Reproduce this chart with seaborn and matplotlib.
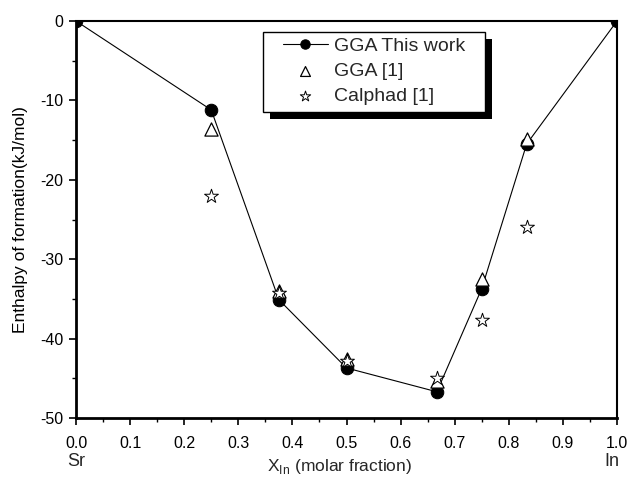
import matplotlib
matplotlib.use("Agg")
import matplotlib.pyplot as plt
import seaborn as sns
import pandas as pd
from matplotlib.patches import Rectangle
from matplotlib.ticker import MultipleLocator

x_this = [0.0, 0.25, 0.375, 0.5, 0.667, 0.75, 0.833, 1.0]
y_this = [0.0, -11.2, -35.1, -43.7, -46.7, -33.7, -15.5, 0.0]

x_lit = [0.25, 0.375, 0.5, 0.667, 0.75, 0.833]
y_gga1 = [-13.6, -34.0, -42.6, -45.3, -32.5, -14.9]
y_calphad = [-22.0, -34.2, -42.8, -45.0, -37.7, -26.0]

labels = ["GGA This work", "GGA [1]", "Calphad [1]"]

sns.set_theme(style="ticks")
plt.rcParams['font.family'] = ['Liberation Sans', 'DejaVu Sans']
plt.rcParams['mathtext.fontset'] = 'custom'
plt.rcParams['mathtext.rm'] = 'Liberation Sans'

fig = plt.figure(figsize=(6.28, 4.79), dpi=100)
ax = fig.add_axes([76/628, 1 - 418/479, (617-76)/628, (418-21)/479])

df_this = pd.DataFrame({"x": x_this, "y": y_this})
df_g = pd.DataFrame({"x": x_lit, "y": y_gga1})
df_c = pd.DataFrame({"x": x_lit, "y": y_calphad})

sns.lineplot(data=df_this, x="x", y="y", ax=ax, color="black", lw=0.8,
             marker="o", markersize=9, markeredgecolor="black",
             markerfacecolor="black", label=labels[0], zorder=3)
sns.scatterplot(data=df_g, x="x", y="y", ax=ax, marker="^", s=90,
                facecolor="white", edgecolor="black", linewidth=0.9,
                label=labels[1], zorder=4, clip_on=False)
sns.scatterplot(data=df_c, x="x", y="y", ax=ax, marker="*", s=110,
                facecolor="white", edgecolor="black", linewidth=0.7,
                label=labels[2], zorder=5, clip_on=False)

ax.set_xlim(0, 1.0)
ax.set_ylim(-50, 0)
ax.xaxis.set_major_locator(MultipleLocator(0.1))
ax.xaxis.set_minor_locator(MultipleLocator(0.05))
ax.yaxis.set_major_locator(MultipleLocator(10))
ax.yaxis.set_minor_locator(MultipleLocator(5))
ax.tick_params(which="major", direction="out", length=5, width=1.2,
               labelsize=11.5, color="black", labelcolor="black", pad=4)
ax.tick_params(axis="x", which="major", pad=8)
ax.tick_params(which="minor", direction="out", length=3, width=1.0, color="black")
ax.set_xticklabels([f"{v:.1f}" for v in ax.get_xticks()])
ax.set_yticklabels([f"{int(v)}" for v in ax.get_yticks()])
for s in ax.spines.values():
    s.set_color("black")
    s.set_linewidth(1.5)
ax.spines["left"].set_linewidth(2)
ax.spines["bottom"].set_linewidth(2)

ax.set_xlabel("")
ax.set_ylabel("Enthalpy of formation(kJ/mol)", fontsize=12.5, color="black", labelpad=9)
fig.text(340/628, 1 - 466/479, r"X$_{\mathrm{In}}$ (molar fraction)", ha="center",
         va="center", fontsize=12.5)
fig.text(76/628, 1 - 462/479, "Sr", ha="center", va="center", fontsize=13)
fig.text(612/628, 1 - 462/479, "In", ha="center", va="center", fontsize=13)

leg = ax.legend(loc="upper left", bbox_to_anchor=((283-76)/541, 1 - (37-21)/397),
                frameon=False, fontsize=14, borderpad=0,
                labelspacing=0.4, handletextpad=0.3, handlelength=2.3,
                markerscale=0.75, borderaxespad=0)
leg.set_zorder(10)

fig.canvas.draw()
bb = leg.get_window_extent()
inv = ax.transAxes.inverted()
x0, y0 = inv.transform((bb.x0 - 20, bb.y0 - 7))
x1, y1 = inv.transform((bb.x1 + 20, bb.y1 + 5))
dx = 7 / 541
dy = 7 / 397
ax.add_patch(Rectangle((x0 + dx, y0 - dy), x1 - x0, y1 - y0,
                       transform=ax.transAxes, facecolor="black",
                       edgecolor="none", zorder=8, clip_on=False))
ax.add_patch(Rectangle((x0, y0), x1 - x0, y1 - y0,
                       transform=ax.transAxes, facecolor="white",
                       edgecolor="black", linewidth=1.0, zorder=9, clip_on=False))

fig.savefig("out.png", dpi=100)
